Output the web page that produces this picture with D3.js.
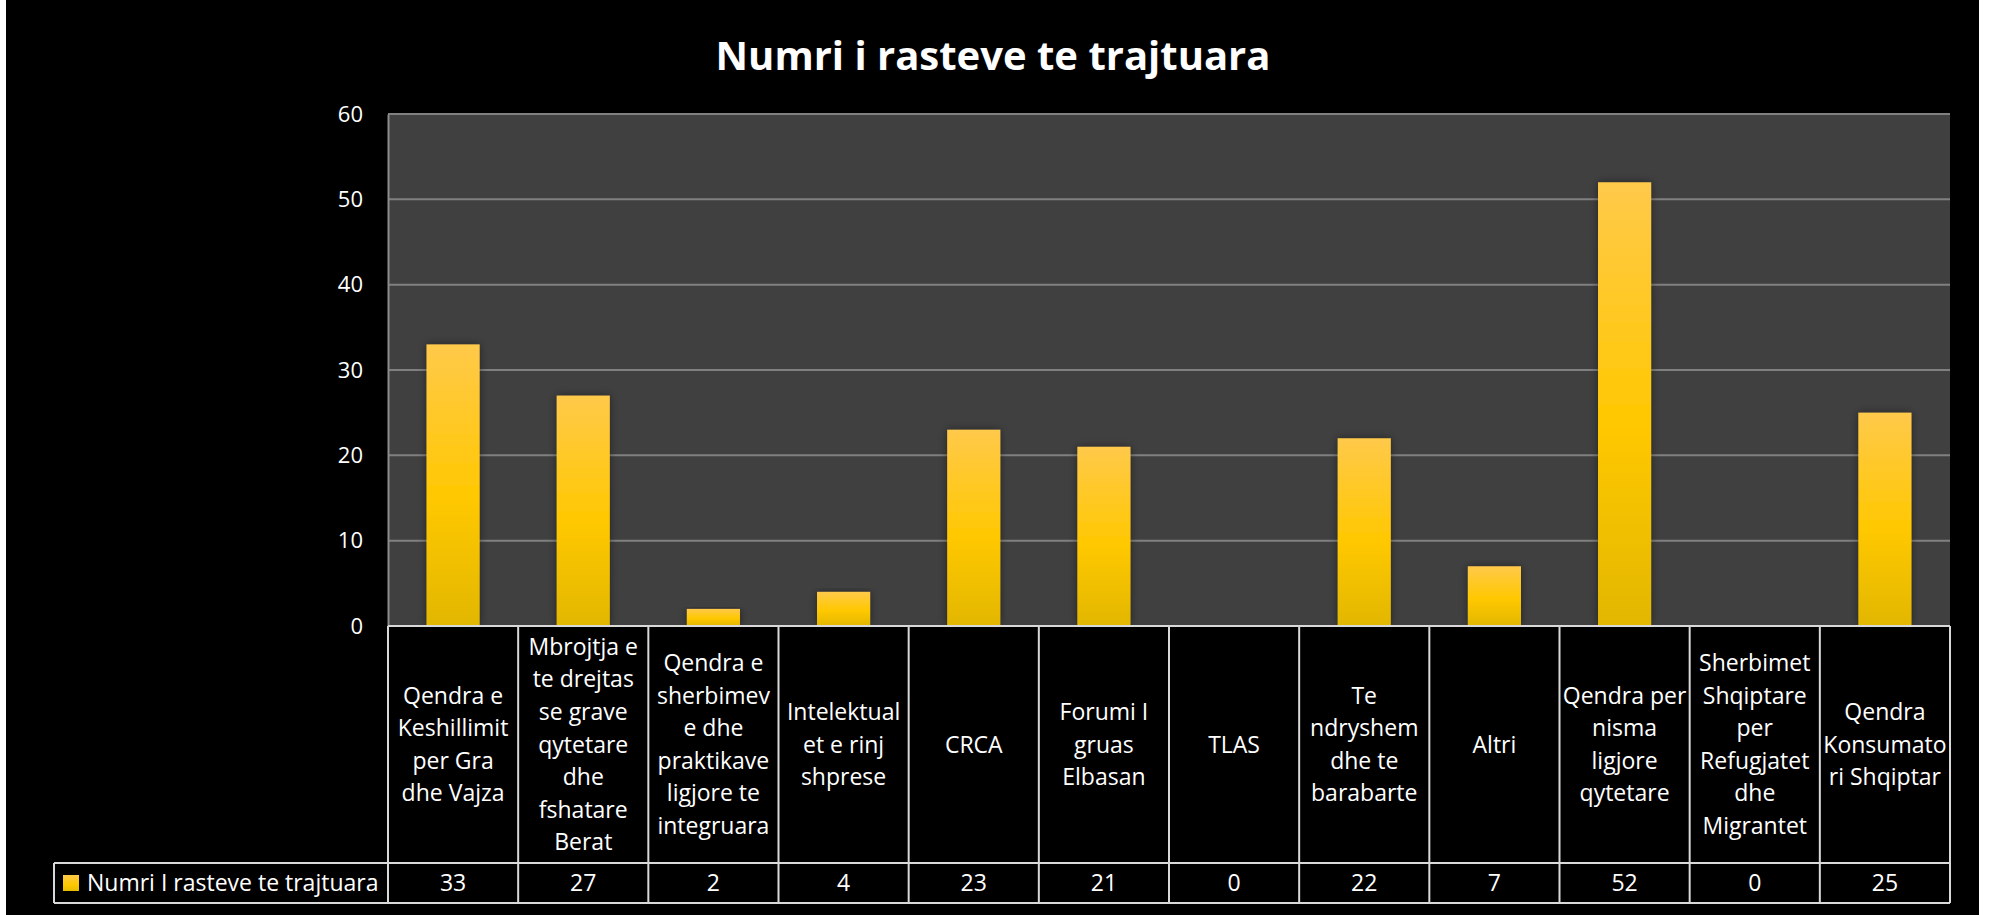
<!DOCTYPE html>
<html>
<head>
<meta charset="utf-8">
<script src="https://cdn.jsdelivr.net/npm/d3@7"></script>
<style>
  html, body { margin: 0; padding: 0; background: #ffffff; }
  svg { display: block; }
  text { font-family: "Open Sans", "Noto Sans", sans-serif; fill: #ffffff; }
</style>
</head>
<body>
<div id="chart"></div>
<script>
// chart data
const title = "Numri i rasteve te trajtuara";
const seriesName = "Numri I rasteve te trajtuara";
const categories = [
    "Qendra e\nKeshillimit\nper Gra\ndhe Vajza",
    "Mbrojtja e\nte drejtas\nse grave\nqytetare\ndhe\nfshatare\nBerat",
    "Qendra e\nsherbimev\ne dhe\npraktikave\nligjore te\nintegruara",
    "Intelektual\net e rinj\nshprese",
    "CRCA",
    "Forumi I\ngruas\nElbasan",
    "TLAS",
    "Te\nndryshem\ndhe te\nbarabarte",
    "Altri",
    "Qendra per\nnisma\nligjore\nqytetare",
    "Sherbimet\nShqiptare\nper\nRefugjatet\ndhe\nMigrantet",
    "Qendra\nKonsumato\nri Shqiptar"
];
const values = [33, 27, 2, 4, 23, 21, 0, 22, 7, 52, 0, 25];
const yTicks = [0, 10, 20, 30, 40, 50, 60];

const W = 1992, H = 915;
const plot = { left: 388, right: 1950, top: 114, bottom: 626 };
const table = { legendLeft: 54, rowSplit: 863, bottom: 903 };

const svg = d3.select("#chart").append("svg")
    .attr("width", W)
    .attr("height", H);

// bar gradient + soft shadow
const defs = svg.append("defs");
const grad = defs.append("linearGradient")
    .attr("id", "barGrad")
    .attr("x1", 0).attr("y1", 0).attr("x2", 0).attr("y2", 1);
grad.append("stop").attr("offset", "0%").attr("stop-color", "#ffc94a");
grad.append("stop").attr("offset", "55%").attr("stop-color", "#ffc800");
grad.append("stop").attr("offset", "100%").attr("stop-color", "#e2b700");

const shadow = defs.append("filter")
    .attr("id", "barShadow")
    .attr("x", "-30%").attr("y", "-10%").attr("width", "160%").attr("height", "120%");
shadow.append("feDropShadow")
    .attr("dx", 0).attr("dy", 0)
    .attr("stdDeviation", 4)
    .attr("flood-color", "#000")
    .attr("flood-opacity", 0.45);

const legendGrad = defs.append("linearGradient")
    .attr("id", "legendGrad")
    .attr("x1", 0).attr("y1", 0).attr("x2", 0).attr("y2", 1);
legendGrad.append("stop").attr("offset", "0%").attr("stop-color", "#ffc94a");
legendGrad.append("stop").attr("offset", "60%").attr("stop-color", "#ffc800");
legendGrad.append("stop").attr("offset", "100%").attr("stop-color", "#e8bb00");

// black chart area
svg.append("rect")
    .attr("x", 6).attr("y", 0)
    .attr("width", 1979 - 6).attr("height", H)
    .attr("fill", "#000000");

// title
svg.append("text")
    .attr("x", 993)
    .attr("y", 70)
    .attr("text-anchor", "middle")
    .attr("font-size", 40)
    .attr("font-weight", "bold")
    .text(title);

const x = d3.scaleBand()
    .domain(d3.range(categories.length))
    .range([plot.left, plot.right])
    .padding(0);

const y = d3.scaleLinear()
    .domain([0, 60])
    .range([plot.bottom, plot.top]);

const barW = x.bandwidth() / 2.45;

// plot background
svg.append("rect")
    .attr("x", plot.left).attr("y", plot.top)
    .attr("width", plot.right - plot.left)
    .attr("height", plot.bottom - plot.top)
    .attr("fill", "#404040");

// gridlines
svg.append("g")
    .selectAll("line")
    .data(yTicks.filter(t => t > 0))
    .join("line")
    .attr("x1", plot.left)
    .attr("x2", plot.right)
    .attr("y1", d => y(d))
    .attr("y2", d => y(d))
    .attr("stroke", "#808080")
    .attr("stroke-width", 2);

// y axis
const yAxis = svg.append("g")
    .attr("transform", `translate(${plot.left}, 0)`)
    .call(d3.axisLeft(y).tickValues(yTicks).tickSize(0).tickPadding(25));
yAxis.select(".domain")
    .attr("stroke", "#8c8c8c")
    .attr("stroke-width", 2);
yAxis.selectAll("text")
    .attr("font-size", 22)
    .attr("fill", "#ffffff")
    .style("font-family", "\"Open Sans\", sans-serif");

// bars
svg.append("g")
    .selectAll("rect")
    .data(values)
    .join("rect")
    .attr("x", (d, i) => x(i) + (x.bandwidth() - barW) / 2)
    .attr("y", d => y(d))
    .attr("width", barW)
    .attr("height", d => y(0) - y(d))
    .attr("fill", "url(#barGrad)")
    .attr("filter", d => d > 0 ? "url(#barShadow)" : null);

// data table
const lineCol = "#d9d9d9";
const tbl = svg.append("g");

tbl.append("rect")
    .attr("x", plot.left).attr("y", plot.bottom)
    .attr("width", plot.right - plot.left)
    .attr("height", table.bottom - plot.bottom)
    .attr("fill", "#000");
tbl.append("rect")
    .attr("x", table.legendLeft).attr("y", table.rowSplit)
    .attr("width", plot.left - table.legendLeft)
    .attr("height", table.bottom - table.rowSplit)
    .attr("fill", "#000");

// horizontal table lines
tbl.append("line")
    .attr("x1", plot.left).attr("x2", plot.right)
    .attr("y1", plot.bottom).attr("y2", plot.bottom);
[table.rowSplit, table.bottom].forEach(yy =>
    tbl.append("line")
        .attr("x1", table.legendLeft).attr("x2", plot.right)
        .attr("y1", yy).attr("y2", yy)
);
// vertical table lines
tbl.selectAll(".vcol")
    .data(d3.range(categories.length + 1))
    .join("line")
    .attr("class", "vcol")
    .attr("x1", i => i < categories.length ? x(i) : plot.right)
    .attr("x2", i => i < categories.length ? x(i) : plot.right)
    .attr("y1", plot.bottom)
    .attr("y2", table.bottom);
tbl.append("line")
    .attr("x1", table.legendLeft).attr("x2", table.legendLeft)
    .attr("y1", table.rowSplit).attr("y2", table.bottom);
tbl.selectAll("line")
    .attr("stroke", lineCol)
    .attr("stroke-width", 2);

// category labels
const lineH = 32.6;
const catMid = (plot.bottom + table.rowSplit) / 2;
categories.forEach((c, i) => {
    const lines = c.split("\n");
    const t = tbl.append("text")
        .attr("text-anchor", "middle")
        .attr("font-size", 23);
    lines.forEach((ln, k) => {
        t.append("tspan")
            .attr("x", x(i) + x.bandwidth() / 2)
            .attr("y", catMid + (k - (lines.length - 1) / 2) * lineH)
            .attr("dy", "0.35em")
            .text(ln);
    });
});

// values row
const valMid = (table.rowSplit + table.bottom) / 2;
tbl.selectAll(".val")
    .data(values)
    .join("text")
    .attr("class", "val")
    .attr("x", (d, i) => x(i) + x.bandwidth() / 2)
    .attr("y", valMid)
    .attr("dy", "0.35em")
    .attr("text-anchor", "middle")
    .attr("font-size", 23)
    .text(d => d);

// legend key in table
tbl.append("rect")
    .attr("x", 63).attr("y", valMid - 8)
    .attr("width", 16).attr("height", 16)
    .attr("fill", "url(#legendGrad)");
tbl.append("text")
    .attr("x", 87)
    .attr("y", valMid)
    .attr("dy", "0.35em")
    .attr("font-size", 23)
    .text(seriesName);
</script>
</body>
</html>
